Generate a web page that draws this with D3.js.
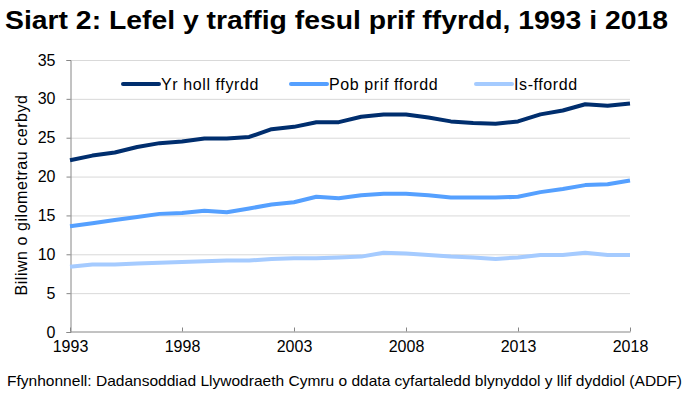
<!DOCTYPE html>
<html>
<head>
<meta charset="utf-8">
<script src="https://cdn.jsdelivr.net/npm/d3@7"></script>
<style>
  body { margin: 0; background: #fff; }
  text { font-family: "Liberation Sans", Arial, sans-serif; }
</style>
</head>
<body>
<div id="vis"></div>
<script>
const width = 689;
const height = 397;

// years along the x axis, one value per year for each road type
const years = d3.range(1993, 2019);
const xTicks = [1993, 1998, 2003, 2008, 2013, 2018];
const yTicks = [0, 5, 10, 15, 20, 25, 30, 35];

const seriesNames = ["Yr holl ffyrdd", "Pob prif ffordd", "Is-ffordd"];
const seriesColors = ["#002e6e", "#55a0ff", "#a5cbff"];

const allRoads = [22.1, 22.7, 23.1, 23.8, 24.3, 24.5, 24.9, 24.9, 25.1, 26.1, 26.4, 27.0, 27.0,
  27.7, 28.0, 28.0, 27.6, 27.1, 26.9, 26.8, 27.1, 28.0, 28.5, 29.3, 29.1, 29.4];
const majorRoads = [13.6, 14.0, 14.4, 14.8, 15.2, 15.3, 15.6, 15.4, 15.9, 16.4, 16.7, 17.4, 17.2,
  17.6, 17.8, 17.8, 17.6, 17.3, 17.3, 17.3, 17.4, 18.0, 18.4, 18.9, 19.0, 19.5];
const minorRoads = [8.4, 8.7, 8.7, 8.8, 8.9, 9.0, 9.1, 9.2, 9.2, 9.4, 9.5, 9.5, 9.6,
  9.7, 10.2, 10.1, 9.9, 9.7, 9.6, 9.4, 9.6, 9.9, 9.9, 10.2, 9.9, 9.9];

const seriesValues = [allRoads, majorRoads, minorRoads];

const margin = { top: 60, right: 59, bottom: 65, left: 70 };

const svg = d3.select("#vis")
  .append("svg")
  .attr("width", width)
  .attr("height", height);

const x = d3.scaleLinear()
  .domain([1993, 2018])
  .range([margin.left, width - margin.right]);

const y = d3.scaleLinear()
  .domain([0, 35])
  .range([height - margin.bottom, margin.top]);

// title
svg.append("text")
  .attr("x", 5)
  .attr("y", 29)
  .attr("textLength", 663)
  .attr("lengthAdjust", "spacingAndGlyphs")
  .style("font-size", "26px")
  .style("font-weight", "bold")
  .attr("fill", "#000")
  .text("Siart 2: Lefel y traffig fesul prif ffyrdd, 1993 i 2018");

// gridlines
svg.append("g")
  .selectAll("line")
  .data(yTicks.filter(d => d > 0))
  .join("line")
  .attr("x1", x(1993))
  .attr("x2", x(2018))
  .attr("y1", d => y(d) + 0.5)
  .attr("y2", d => y(d) + 0.5)
  .attr("stroke", "#d9d9d9")
  .attr("stroke-width", 1);

// y axis
const yAxis = svg.append("g")
  .attr("transform", `translate(${x(1993) + 0.5},0)`)
  .call(d3.axisLeft(y).tickValues(yTicks).tickSize(4).tickPadding(11));

yAxis.select(".domain").attr("stroke", "#868686");
yAxis.selectAll(".tick line").attr("stroke", "#868686");
yAxis.selectAll(".tick text")
  .style("font-size", "16px")
  .attr("fill", "#000")
  .style("font-family", "'Liberation Sans', Arial, sans-serif");

// x axis, ticks point up into the plot
const xAxis = svg.append("g")
  .attr("transform", `translate(0,${y(0) - 0.5})`)
  .call(d3.axisBottom(x).tickValues(xTicks).tickFormat(d3.format("d")).tickSizeInner(-4).tickSizeOuter(0).tickPadding(9));

xAxis.select(".domain").attr("stroke", "#868686");
xAxis.selectAll(".tick line").attr("stroke", "#868686");
xAxis.selectAll(".tick text")
  .style("font-size", "16px")
  .attr("fill", "#000")
  .style("font-family", "'Liberation Sans', Arial, sans-serif");

// y axis title
svg.append("text")
  .attr("transform", `translate(27,${(y(0) + y(35)) / 2 - 1}) rotate(-90)`)
  .attr("text-anchor", "middle")
  .style("font-size", "16px")
  .style("letter-spacing", "0.55px")
  .attr("fill", "#000")
  .text("Biliwn o gilometrau cerbyd");

// lines
const line = d3.line()
  .x((d, i) => x(years[i]))
  .y(d => y(d));

svg.append("g")
  .selectAll("path")
  .data(seriesValues)
  .join("path")
  .attr("d", line)
  .attr("fill", "none")
  .attr("stroke", (d, i) => seriesColors[i])
  .attr("stroke-width", 4)
  .attr("stroke-linejoin", "round");

// legend
const legendX = [123, 291, 476];
const legend = svg.append("g")
  .selectAll("g")
  .data(seriesNames)
  .join("g")
  .attr("transform", (d, i) => `translate(${legendX[i]},84)`);

legend.append("line")
  .attr("x1", 0)
  .attr("x2", 36)
  .attr("stroke", (d, i) => seriesColors[i])
  .attr("stroke-width", 4)
  .attr("stroke-linecap", "round");

legend.append("text")
  .attr("x", 38)
  .attr("y", 6)
  .style("font-size", "16px")
  .style("letter-spacing", "0.6px")
  .attr("fill", "#000")
  .text(d => d);

// source note
svg.append("text")
  .attr("x", 7)
  .attr("y", 386)
  .attr("textLength", 675)
  .attr("lengthAdjust", "spacingAndGlyphs")
  .style("font-size", "14.5px")
  .attr("fill", "#000")
  .text("Ffynhonnell: Dadansoddiad Llywodraeth Cymru o ddata cyfartaledd blynyddol y llif dyddiol (ADDF)");
</script>
</body>
</html>
